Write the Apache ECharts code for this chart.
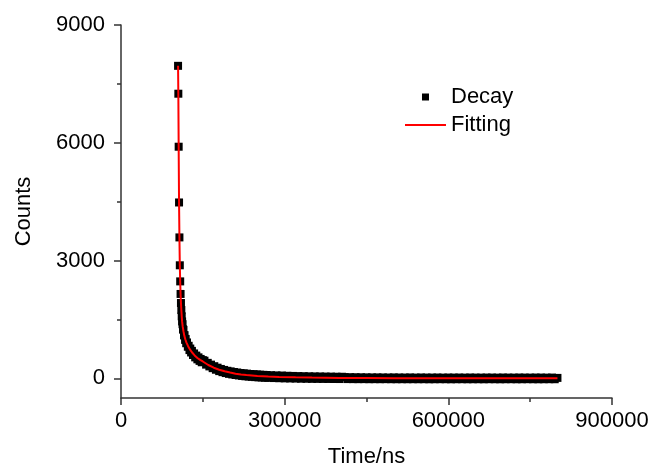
<!DOCTYPE html>
<html>
<head>
<meta charset="utf-8">
<script src="https://cdn.jsdelivr.net/npm/echarts@6/dist/echarts.min.js"></script>
<style>html,body{margin:0;padding:0;background:#fff}#c{width:656px;height:475px}</style>
</head>
<body>
<div id="c"></div>
<script>
// ---- data ----
var xTicks = [0, 300000, 600000, 900000];
var yTicks = [0, 3000, 6000, 9000];
var yMinorTicks = [1500, 4500, 7500];

var decayTime = [
  104600,105100,105700,106400,107100,107800,108500,109200,109900,110600,111300,112000,
  112800,113600,114500,115500,116500,117500,118500,119500,121000,122500,124000,125500,
  127000,128500,130000,132000,134000,136000,138000,140000,142000,144000,146000,148000,150000,
  153000,156000,159000,162000,165000,168000,171000,174000,177000,180000,183000,186000,
  189000,192000,195000,198000,201000,204000,207000,210000,213000,216000,219000,222000,
  225000,228000,231000,234000,237000,240000,243000,246000,249000,252000,255000,258000,
  261000,264000,267000,270000,275000,280000,285000,290000,295000,300000,
  305000,310000,315000,320000,325000,330000,335000,340000,345000,350000,355000,360000,
  365000,370000,375000,380000,385000,390000,395000,400000,405000,
  410000,415000,420000,425000,430000,435000,440000,445000,450000,455000,460000,465000,
  470000,475000,480000,485000,490000,495000,500000,505000,510000,515000,520000,525000,
  530000,535000,540000,545000,550000,555000,560000,565000,570000,575000,580000,585000,
  590000,595000,600000,605000,610000,615000,620000,625000,630000,635000,640000,645000,
  650000,655000,660000,665000,670000,675000,680000,685000,690000,695000,700000,705000,
  710000,715000,720000,725000,730000,735000,740000,745000,750000,755000,760000,765000,
  770000,775000,780000,785000,790000,795000,800000
];
var decayCounts = [
  7960,7250,5900,4480,3590,2880,2470,2150,1920,1740,1580,1450,
  1380,1250,1235,1095,1100,980,1005,895,915,805,830,720,
  760,660,700,595,635,535,580,485,535,445,495,410,465,
  450,350,395,305,350,260,310,220,272,185,240,158,
  215,135,193,115,178,100,162,86,150,74,136,62,
  128,53,120,46,112,39,106,32,100,26,94,22,
  90,17,85,13,80,8,76,4,72,0,
  66,-2,62,-5,58,-8,55,-10,52,-12,50,-13,
  48,-14,46,-15,44,-16,42,-17,41,
  32,-18,30,-19,29,-20,27,-19,26,-21,24,-20,
  25,-21,23,-20,22,-21,24,-22,22,-21,21,-22,
  23,-21,20,-22,22,-21,21,-23,20,-22,22,-21,
  19,-22,21,-23,20,-22,21,-21,19,-23,21,-22,
  20,-22,19,-23,21,-21,20,-22,19,-23,21,-22,
  20,-21,19,-23,21,-22,20,-21,19,-22,21,-23,
  20,-22,19,-21,20,-22,12
];

var fitTime = [
  104600,105100,105700,106400,107100,107800,108500,109200,109900,110600,111300,112000,
  113000,114500,116000,118000,120000,123000,126000,130000,135000,140000,145000,150000,
  160000,170000,180000,190000,200000,210000,220000,230000,250000,270000,290000,
  320000,350000,400000,450000,500000,600000,700000,800000
];
var fitCounts = [
  7960,7250,5900,4480,3590,2880,2470,2150,1920,1740,1580,1450,
  1330,1200,1090,990,910,820,745,665,585,520,470,430,
  340,272,220,180,148,120,99,85,63,49,38,
  27,19,11,7,4,2,1,0
];

var FONT = 'Liberation Sans, Arial, sans-serif';
var AXIS_COLOR = '#333';

function pairs(xs, ys) {
  var out = [];
  for (var i = 0; i < xs.length; i++) out.push([xs[i], ys[i]]);
  return out;
}

var chart = echarts.init(document.getElementById('c'), null, {renderer: 'canvas'});
chart.setOption({
  animation: false,
  backgroundColor: '#fff',
  grid: {left: 121, right: 44, top: 25, bottom: 77, containLabel: false},
  legend: {
    orient: 'vertical',
    left: 400,
    top: 80,
    itemWidth: 41,
    itemHeight: 14,
    itemGap: 4,
    itemStyle: {borderWidth: 0, opacity: 1},
    textStyle: {fontFamily: FONT, fontSize: 22, color: '#000', lineHeight: 24},
    data: [
      {name: 'Decay', icon: 'path://M0,0L0.01,0M41,14L41.01,14M17,3.5L24,3.5L24,10.5L17,10.5Z'},
      {name: 'Fitting', icon: 'path://M0,0L0.01,0M41,14L41.01,14M0,6L41,6L41,8L0,8Z'}
    ]
  },
  xAxis: {
    type: 'value',
    min: xTicks[0],
    max: xTicks[xTicks.length - 1],
    interval: xTicks[1] - xTicks[0],
    name: 'Time/ns',
    nameLocation: 'middle',
    nameGap: 48,
    nameTextStyle: {fontFamily: FONT, fontSize: 22, color: '#000'},
    axisLine: {onZero: false, lineStyle: {color: AXIS_COLOR, width: 1.5}},
    axisTick: {show: true, inside: false, length: 7, lineStyle: {color: AXIS_COLOR, width: 1.5}},
    minorTick: {show: true, splitNumber: 2, length: 4, lineStyle: {color: AXIS_COLOR, width: 1.5}},
    splitLine: {show: false},
    axisLabel: {
      fontFamily: FONT, fontSize: 22, color: '#000', margin: 12,
      formatter: function (v) { return String(v); }
    }
  },
  yAxis: [
    {
      type: 'value',
      min: -500,
      max: 9000,
      position: 'left',
      name: 'Counts',
      nameLocation: 'middle',
      nameGap: 86,
      nameTextStyle: {fontFamily: FONT, fontSize: 22, color: '#000'},
      axisLine: {show: true, onZero: false, lineStyle: {color: AXIS_COLOR, width: 1.5}},
      axisTick: {show: true, inside: false, length: 7, customValues: yTicks, lineStyle: {color: AXIS_COLOR, width: 1.5}},
      splitLine: {show: false},
      axisLabel: {
        fontFamily: FONT, fontSize: 22, color: '#000', margin: 16,
        customValues: yTicks,
        formatter: function (v) { return String(v); }
      }
    },
    {
      type: 'value',
      min: -500,
      max: 9000,
      position: 'left',
      axisLine: {show: false, onZero: false},
      axisTick: {show: true, inside: false, length: 4, customValues: yMinorTicks, lineStyle: {color: AXIS_COLOR, width: 1.5}},
      axisLabel: {show: false},
      splitLine: {show: false}
    }
  ],
  series: [
    {
      name: 'Decay',
      type: 'scatter',
      symbol: 'rect',
      symbolSize: 8,
      itemStyle: {color: '#000', opacity: 1},
      data: pairs(decayTime, decayCounts),
      z: 2
    },
    {
      name: 'Fitting',
      type: 'line',
      showSymbol: false,
      symbol: 'none',
      smooth: false,
      itemStyle: {color: '#ff0000'},
      lineStyle: {color: '#ff0000', width: 2},
      data: pairs(fitTime, fitCounts),
      z: 3
    }
  ]
});
</script>
</body>
</html>
